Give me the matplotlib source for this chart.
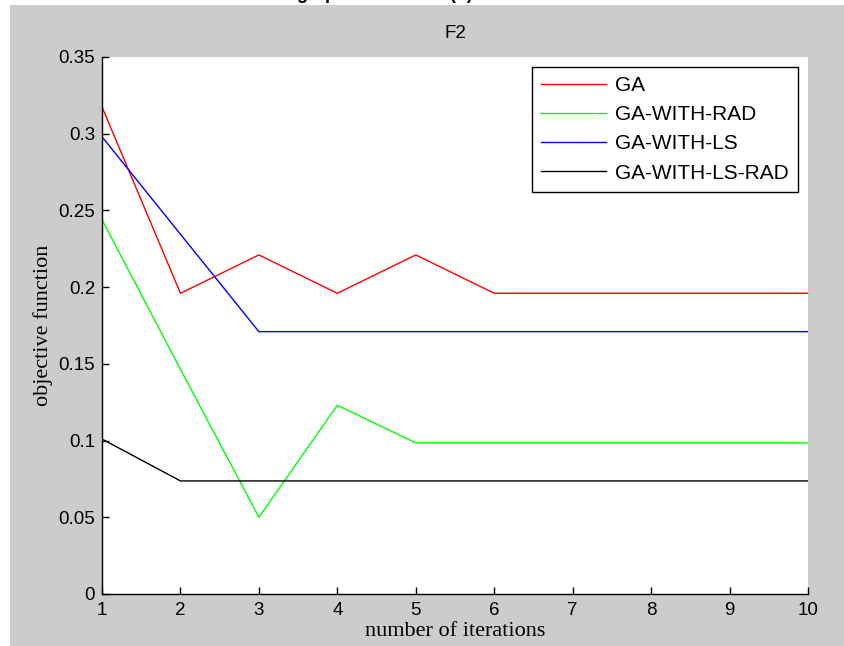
import matplotlib.pyplot as plt
from matplotlib.patches import Rectangle
from matplotlib.ticker import FormatStrFormatter

# data
iterations = [1, 2, 3, 4, 5, 6, 7, 8, 9, 10]
ga = [0.3175, 0.196, 0.221, 0.196, 0.221, 0.196, 0.196, 0.196, 0.196, 0.196]
ga_rad = [0.244, 0.1465, 0.050, 0.123, 0.0985, 0.0985, 0.0985, 0.0985, 0.0985, 0.0985]
ga_ls = [0.298, 0.2345, 0.171, 0.171, 0.171, 0.171, 0.171, 0.171, 0.171, 0.171]
ga_ls_rad = [0.101, 0.0737, 0.0737, 0.0737, 0.0737, 0.0737, 0.0737, 0.0737, 0.0737, 0.0737]

series = [("GA", ga, "#FF0000"),
          ("GA-WITH-RAD", ga_rad, "#00FF00"),
          ("GA-WITH-LS", ga_ls, "#0000FF"),
          ("GA-WITH-LS-RAD", ga_ls_rad, "#000000")]

sans = ["Liberation Sans", "DejaVu Sans"]
serif = ["Liberation Serif", "DejaVu Serif"]

fig = plt.figure(figsize=(8.44, 6.46), dpi=100, facecolor="white")
# gray MATLAB figure background (small white strips at left/top)
fig.patches.append(Rectangle((10 / 844, 0), 1 - 10 / 844, 641 / 646,
                             transform=fig.transFigure, facecolor="#CCCCCC",
                             edgecolor="none", zorder=-10))
# cut-off caption at the very top
fig.text(297 / 844, 1.0 + 1 / 646, "graph of function (b)", fontsize=13,
         fontweight="bold", family=sans, ha="left", va="baseline")

ax = fig.add_axes([102 / 844, 52 / 646, 706 / 844, 537 / 646])
ax.set_facecolor("white")

for name, vals, col in series:
    ax.plot(iterations, vals, color=col, linewidth=1.0, label=name)

ax.set_xlim(1, 10)
ax.set_ylim(0, 0.35)
ax.set_xticks(iterations)
ax.set_yticks([0, 0.05, 0.1, 0.15, 0.2, 0.25, 0.3, 0.35])
ax.yaxis.set_major_formatter(FormatStrFormatter("%g"))

for side in ["top", "right"]:
    ax.spines[side].set_visible(False)
for side in ["left", "bottom"]:
    ax.spines[side].set_linewidth(1.0)
    ax.spines[side].set_color("black")

ax.tick_params(direction="in", length=5, width=1.0, colors="black")
ax.tick_params(axis="y", pad=5)
ax.tick_params(axis="x", pad=6)
for lab in ax.get_yticklabels():
    lab.set_family(sans)
    lab.set_fontsize(13.5)
for lab in ax.get_xticklabels():
    lab.set_family(sans)
    lab.set_fontsize(13.5)

ax.set_title("F2", fontsize=13.5, family=sans, pad=14)
ax.set_xlabel("number of iterations", fontsize=16, family=serif, labelpad=2)
ax.set_ylabel("objective function", fontsize=16, family=serif, labelpad=4)

leg = ax.legend(loc="upper right", bbox_to_anchor=(0.986, 0.982), borderaxespad=0,
                fancybox=False, framealpha=1, edgecolor="black",
                handlelength=3.1, borderpad=0.45, labelspacing=0.49,
                handletextpad=0.45, prop={"family": sans, "size": 15})
leg.get_frame().set_linewidth(1.0)

fig.savefig("out.png", dpi=100, facecolor=fig.get_facecolor())
